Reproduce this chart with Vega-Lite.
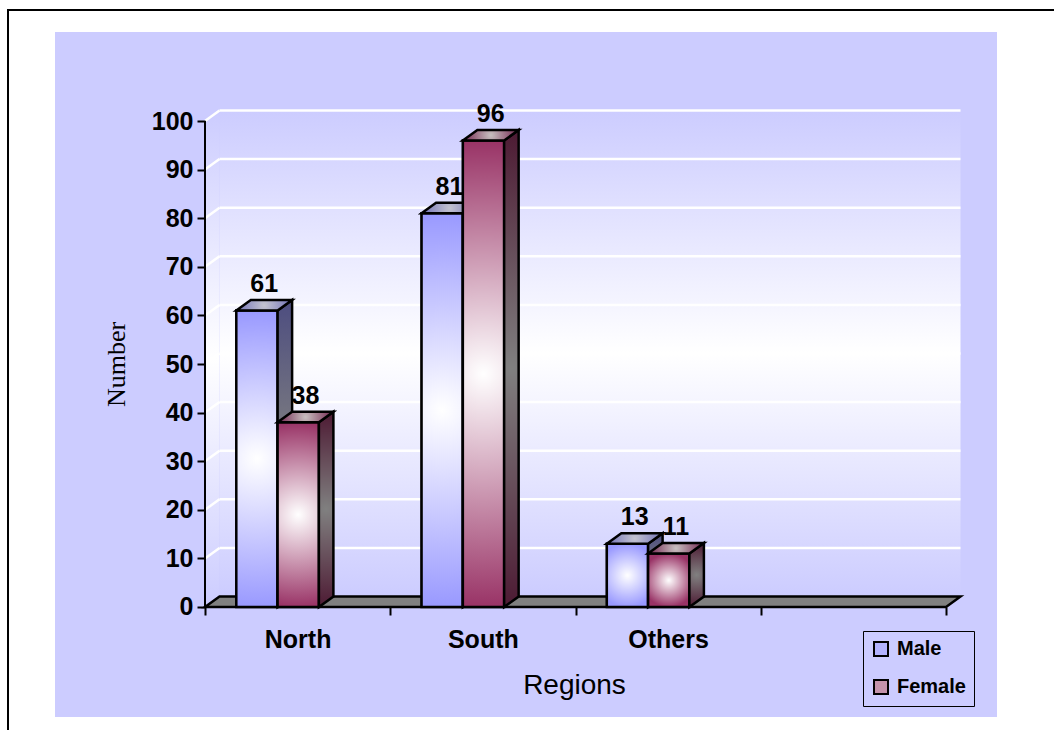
{
  "$schema": "https://vega.github.io/schema/vega-lite/v6.json",
  "width": 942,
  "height": 685,
  "padding": {"left": 55, "top": 32, "right": 57, "bottom": 13},
  "autosize": {"type": "none"},
  "background": "white",
  "config": {
    "view": {"stroke": null, "fill": "#ccccff"},
    "font": "Liberation Sans"
  },
  "datasets": {
    "survey": [
      {"region": "North", "sex": "Male", "count": 61},
      {"region": "North", "sex": "Female", "count": 38},
      {"region": "South", "sex": "Male", "count": 81},
      {"region": "South", "sex": "Female", "count": 96},
      {"region": "Others", "sex": "Male", "count": 13},
      {"region": "Others", "sex": "Female", "count": 11}
    ],
    "gridTicks": [
      {"tick": 10}, {"tick": 20}, {"tick": 30}, {"tick": 40}, {"tick": 50},
      {"tick": 60}, {"tick": 70}, {"tick": 80}, {"tick": 90}, {"tick": 100}
    ],
    "depth": [{"plane": "front"}, {"plane": "back"}]
  },
  "layer": [
    {
      "data": {"values": [{}]},
      "mark": {"type": "rect", "fill": "transparent", "stroke": "black", "strokeWidth": 2},
      "encoding": {
        "x": {
          "datum": -1.0634, "type": "quantitative",
          "scale": {"type": "linear", "domain": [-0.80972, 4.2753], "nice": false, "zero": false},
          "axis": {
            "values": [0, 1, 2, 3, 4],
            "offset": -110,
            "domain": false,
            "grid": false,
            "tickSize": 8,
            "tickWidth": 2,
            "tickColor": "black",
            "labelOffset": 92.6,
            "labelFlush": false,
            "labelOverlap": false,
            "labelExpr": "datum.value == 0 ? 'North' : datum.value == 1 ? 'South' : datum.value == 2 ? 'Others' : ''",
            "labelFont": "Liberation Sans",
            "labelFontWeight": "bold",
            "labelFontSize": 25,
            "labelColor": "black",
            "labelPadding": 12,
            "title": "Regions",
            "titleFont": "Liberation Sans",
            "titleFontWeight": "normal",
            "titleFontSize": 28,
            "titleColor": "black",
            "titleX": 519,
            "titleY": 86,
            "titleAlign": "center",
            "titleBaseline": "alphabetic",
            "zindex": 1
          }
        },
        "x2": {"datum": 4.65},
        "y": {
          "datum": 122.84, "type": "quantitative",
          "scale": {"type": "linear", "domain": [-22.634, 118.313], "nice": false, "zero": false},
          "axis": {
            "values": [0, 10, 20, 30, 40, 50, 60, 70, 80, 90, 100],
            "offset": -150,
            "domain": false,
            "grid": false,
            "tickSize": 8,
            "tickWidth": 2,
            "tickColor": "black",
            "labelFlush": false,
            "labelOverlap": false,
            "labelFont": "Liberation Sans",
            "labelFontWeight": "bold",
            "labelFontSize": 25,
            "labelColor": "black",
            "labelPadding": 4,
            "title": "Number",
            "titleFont": "Liberation Serif",
            "titleFontWeight": "normal",
            "titleFontSize": 26,
            "titleColor": "black",
            "titleAngle": -90,
            "titleX": -89,
            "titleY": 332,
            "titleAlign": "center",
            "titleBaseline": "middle",
            "zindex": 1
          }
        },
        "y2": {"datum": -28}
      }
    },
    {
      "data": {"name": "depth"},
      "transform": [
        {"calculate": "datum.plane == 'back' ? 1 : 0", "as": "k"},
        {"calculate": "datum.k * 0.0783", "as": "wx"},
        {"calculate": "100 + datum.k * 2.16", "as": "wt"},
        {"calculate": "datum.k * 2.16", "as": "wb"}
      ],
      "mark": {
        "type": "area", "orient": "vertical", "opacity": 1,
        "fill": {"gradient": "linear", "x1": 0, "y1": 0, "x2": 0, "y2": 1,
          "stops": [{"offset": 0, "color": "#ccccff"}, {"offset": 0.5, "color": "#ffffff"}, {"offset": 1, "color": "#ccccff"}]}
      },
      "encoding": {
        "x": {"field": "wx", "type": "quantitative", "scale": {"type": "linear", "domain": [-0.80972, 4.2753], "nice": false, "zero": false}},
        "y": {"field": "wt", "type": "quantitative", "scale": {"type": "linear", "domain": [-22.634, 118.313], "nice": false, "zero": false}},
        "y2": {"field": "wb"}
      }
    },
    {
      "data": {"values": [{}]},
      "mark": {
        "type": "rect",
        "fill": {"gradient": "linear", "x1": 0, "y1": 0, "x2": 0, "y2": 1,
          "stops": [{"offset": 0, "color": "#ccccff"}, {"offset": 0.5, "color": "#ffffff"}, {"offset": 1, "color": "#ccccff"}]}
      },
      "encoding": {
        "x": {"datum": 0.0783, "type": "quantitative", "scale": {"type": "linear", "domain": [-0.80972, 4.2753], "nice": false, "zero": false}},
        "x2": {"datum": 4.0783},
        "y": {"datum": 2.16, "type": "quantitative", "scale": {"type": "linear", "domain": [-22.634, 118.313], "nice": false, "zero": false}},
        "y2": {"datum": 102.16}
      }
    },
    {
      "data": {"name": "gridTicks"},
      "transform": [{"calculate": "datum.tick + 2.16", "as": "gy"}],
      "mark": {"type": "rule", "stroke": "white", "strokeWidth": 2.5},
      "encoding": {
        "x": {"datum": 0.0783, "type": "quantitative", "scale": {"type": "linear", "domain": [-0.80972, 4.2753], "nice": false, "zero": false}},
        "x2": {"datum": 4.0783},
        "y": {"field": "gy", "type": "quantitative", "scale": {"type": "linear", "domain": [-22.634, 118.313], "nice": false, "zero": false}}
      }
    },
    {
      "data": {"name": "gridTicks"},
      "transform": [{"calculate": "datum.tick + 2.16", "as": "gy"}],
      "mark": {"type": "rule", "stroke": "white", "strokeWidth": 2.5},
      "encoding": {
        "x": {"datum": 0, "type": "quantitative", "scale": {"type": "linear", "domain": [-0.80972, 4.2753], "nice": false, "zero": false}},
        "x2": {"datum": 0.0783},
        "y": {"field": "tick", "type": "quantitative", "scale": {"type": "linear", "domain": [-22.634, 118.313], "nice": false, "zero": false}},
        "y2": {"field": "gy"}
      }
    },
    {
      "data": {"name": "depth"},
      "transform": [
        {"calculate": "datum.plane == 'back' ? 1 : 0", "as": "k"},
        {"calculate": "datum.k * 2.16", "as": "fy"},
        {"calculate": "datum.k * 0.0783", "as": "fx"},
        {"calculate": "4 + datum.k * 0.0783", "as": "fx2"}
      ],
      "mark": {"type": "area", "orient": "horizontal", "opacity": 1, "fill": "#808080", "stroke": "black", "strokeWidth": 2.5},
      "encoding": {
        "y": {"field": "fy", "type": "quantitative", "scale": {"type": "linear", "domain": [-22.634, 118.313], "nice": false, "zero": false}},
        "x": {"field": "fx", "type": "quantitative", "scale": {"type": "linear", "domain": [-0.80972, 4.2753], "nice": false, "zero": false}},
        "x2": {"field": "fx2"}
      }
    },
    {
      "data": {"name": "survey"},
      "transform": [
        {"calculate": "indexof(['North','South','Others'], datum.region)", "as": "ri"},
        {"calculate": "datum.sex == 'Male' ? 0 : 1", "as": "si"},
        {"calculate": "datum.ri + 0.169 + datum.si * 0.2229", "as": "xl"},
        {"calculate": "datum.xl + 0.2229", "as": "xr"}
      ],
      "mark": {"type": "rect", "opacity": 1, "stroke": "black", "strokeWidth": 2},
      "encoding": {
        "x": {"field": "xl", "type": "quantitative", "scale": {"type": "linear", "domain": [-0.80972, 4.2753], "nice": false, "zero": false}},
        "x2": {"field": "xr"},
        "y": {"field": "count", "type": "quantitative", "scale": {"type": "linear", "domain": [-22.634, 118.313], "nice": false, "zero": false}},
        "y2": {"datum": 0},
        "fill": {
          "field": "sex", "type": "nominal",
          "scale": {"domain": ["Male", "Female"], "range": ["#b3b3ff", "#c493ab"]},
          "legend": {
            "orient": "none",
            "legendX": 808,
            "legendY": 599,
            "title": null,
            "symbolType": "square",
            "symbolSize": 196,
            "symbolStrokeColor": "black",
            "symbolStrokeWidth": 2,
            "symbolOpacity": 1,
            "labelFont": "Liberation Sans",
            "labelFontWeight": "bold",
            "labelFontSize": 20,
            "labelColor": "black",
            "labelOffset": 6,
            "rowPadding": 16,
            "padding": 8,
            "strokeColor": "black"
          }
        }
      }
    },
    {
      "data": {"name": "survey"},
      "transform": [
        {"filter": "datum.sex == 'Male'"},
        {"calculate": "indexof(['North','South','Others'], datum.region)", "as": "ri"},
        {"calculate": "datum.ri + 0.169", "as": "xl"},
        {"calculate": "datum.xl + 0.2229", "as": "xr"}
      ],
      "mark": {
        "type": "rect", "stroke": "black", "strokeWidth": 2.5, "opacity": 1,
        "fill": {"gradient": "radial", "x1": 0.5, "y1": 0.5, "r1": 0, "x2": 0.5, "y2": 0.5, "r2": 0.5,
          "stops": [{"offset": 0, "color": "#ffffff"}, {"offset": 1, "color": "#9999ff"}]}
      },
      "encoding": {
        "x": {"field": "xl", "type": "quantitative", "scale": {"type": "linear", "domain": [-0.80972, 4.2753], "nice": false, "zero": false}},
        "x2": {"field": "xr"},
        "y": {"field": "count", "type": "quantitative", "scale": {"type": "linear", "domain": [-22.634, 118.313], "nice": false, "zero": false}},
        "y2": {"datum": 0}
      }
    },
    {
      "data": {"name": "survey"},
      "transform": [
        {"filter": "datum.sex == 'Male'"},
        {"calculate": "indexof(['North','South','Others'], datum.region)", "as": "ri"},
        {"calculate": "datum.ri + 0.169 + 0.2229", "as": "xr"},
        {"calculate": "[0, 1]", "as": "k"},
        {"flatten": ["k"]},
        {"calculate": "datum.xr + datum.k * 0.0783", "as": "sx"},
        {"calculate": "datum.count + datum.k * 2.16", "as": "st"},
        {"calculate": "datum.k * 2.16", "as": "sb"}
      ],
      "mark": {
        "type": "area", "orient": "vertical", "stroke": "black", "strokeWidth": 2.5, "opacity": 1,
        "fill": {"gradient": "radial", "x1": 0.5, "y1": 0.5, "r1": 0, "x2": 0.5, "y2": 0.5, "r2": 0.5,
          "stops": [{"offset": 0, "color": "#808080"}, {"offset": 1, "color": "#4d4d80"}]}
      },
      "encoding": {
        "x": {"field": "sx", "type": "quantitative", "scale": {"type": "linear", "domain": [-0.80972, 4.2753], "nice": false, "zero": false}},
        "y": {"field": "st", "type": "quantitative", "scale": {"type": "linear", "domain": [-22.634, 118.313], "nice": false, "zero": false}},
        "y2": {"field": "sb"},
        "detail": {"field": "region", "type": "nominal"}
      }
    },
    {
      "data": {"name": "survey"},
      "transform": [
        {"filter": "datum.sex == 'Male'"},
        {"calculate": "indexof(['North','South','Others'], datum.region)", "as": "ri"},
        {"calculate": "datum.ri + 0.169", "as": "xl"},
        {"calculate": "datum.xl + 0.2229", "as": "xr"},
        {"calculate": "[0, 1]", "as": "k"},
        {"flatten": ["k"]},
        {"calculate": "datum.xl + datum.k * 0.0783", "as": "tx"},
        {"calculate": "datum.xr + datum.k * 0.0783", "as": "tx2"},
        {"calculate": "datum.count + datum.k * 2.16", "as": "ty"}
      ],
      "mark": {
        "type": "area", "orient": "horizontal", "stroke": "black", "strokeWidth": 2.5, "opacity": 1,
        "fill": {"gradient": "radial", "x1": 0.5, "y1": 0.5, "r1": 0, "x2": 0.5, "y2": 0.5, "r2": 0.5,
          "stops": [{"offset": 0, "color": "#c4c4d0"}, {"offset": 1, "color": "#7373b8"}]}
      },
      "encoding": {
        "y": {"field": "ty", "type": "quantitative", "scale": {"type": "linear", "domain": [-22.634, 118.313], "nice": false, "zero": false}},
        "x": {"field": "tx", "type": "quantitative", "scale": {"type": "linear", "domain": [-0.80972, 4.2753], "nice": false, "zero": false}},
        "x2": {"field": "tx2"},
        "detail": {"field": "region", "type": "nominal"}
      }
    },
    {
      "data": {"name": "survey"},
      "transform": [
        {"filter": "datum.sex == 'Female'"},
        {"calculate": "indexof(['North','South','Others'], datum.region)", "as": "ri"},
        {"calculate": "datum.ri + 0.169 + 0.2229", "as": "xl"},
        {"calculate": "datum.xl + 0.2229", "as": "xr"}
      ],
      "mark": {
        "type": "rect", "stroke": "black", "strokeWidth": 2.5, "opacity": 1,
        "fill": {"gradient": "radial", "x1": 0.5, "y1": 0.5, "r1": 0, "x2": 0.5, "y2": 0.5, "r2": 0.5,
          "stops": [{"offset": 0, "color": "#ffffff"}, {"offset": 1, "color": "#993366"}]}
      },
      "encoding": {
        "x": {"field": "xl", "type": "quantitative", "scale": {"type": "linear", "domain": [-0.80972, 4.2753], "nice": false, "zero": false}},
        "x2": {"field": "xr"},
        "y": {"field": "count", "type": "quantitative", "scale": {"type": "linear", "domain": [-22.634, 118.313], "nice": false, "zero": false}},
        "y2": {"datum": 0}
      }
    },
    {
      "data": {"name": "survey"},
      "transform": [
        {"filter": "datum.sex == 'Female'"},
        {"calculate": "indexof(['North','South','Others'], datum.region)", "as": "ri"},
        {"calculate": "datum.ri + 0.169 + 2 * 0.2229", "as": "xr"},
        {"calculate": "[0, 1]", "as": "k"},
        {"flatten": ["k"]},
        {"calculate": "datum.xr + datum.k * 0.0783", "as": "sx"},
        {"calculate": "datum.count + datum.k * 2.16", "as": "st"},
        {"calculate": "datum.k * 2.16", "as": "sb"}
      ],
      "mark": {
        "type": "area", "orient": "vertical", "stroke": "black", "strokeWidth": 2.5, "opacity": 1,
        "fill": {"gradient": "radial", "x1": 0.5, "y1": 0.5, "r1": 0, "x2": 0.5, "y2": 0.5, "r2": 0.5,
          "stops": [{"offset": 0, "color": "#808080"}, {"offset": 1, "color": "#4d1a33"}]}
      },
      "encoding": {
        "x": {"field": "sx", "type": "quantitative", "scale": {"type": "linear", "domain": [-0.80972, 4.2753], "nice": false, "zero": false}},
        "y": {"field": "st", "type": "quantitative", "scale": {"type": "linear", "domain": [-22.634, 118.313], "nice": false, "zero": false}},
        "y2": {"field": "sb"},
        "detail": {"field": "region", "type": "nominal"}
      }
    },
    {
      "data": {"name": "survey"},
      "transform": [
        {"filter": "datum.sex == 'Female'"},
        {"calculate": "indexof(['North','South','Others'], datum.region)", "as": "ri"},
        {"calculate": "datum.ri + 0.169 + 0.2229", "as": "xl"},
        {"calculate": "datum.xl + 0.2229", "as": "xr"},
        {"calculate": "[0, 1]", "as": "k"},
        {"flatten": ["k"]},
        {"calculate": "datum.xl + datum.k * 0.0783", "as": "tx"},
        {"calculate": "datum.xr + datum.k * 0.0783", "as": "tx2"},
        {"calculate": "datum.count + datum.k * 2.16", "as": "ty"}
      ],
      "mark": {
        "type": "area", "orient": "horizontal", "stroke": "black", "strokeWidth": 2.5, "opacity": 1,
        "fill": {"gradient": "radial", "x1": 0.5, "y1": 0.5, "r1": 0, "x2": 0.5, "y2": 0.5, "r2": 0.5,
          "stops": [{"offset": 0, "color": "#c8c0c0"}, {"offset": 1, "color": "#732650"}]}
      },
      "encoding": {
        "y": {"field": "ty", "type": "quantitative", "scale": {"type": "linear", "domain": [-22.634, 118.313], "nice": false, "zero": false}},
        "x": {"field": "tx", "type": "quantitative", "scale": {"type": "linear", "domain": [-0.80972, 4.2753], "nice": false, "zero": false}},
        "x2": {"field": "tx2"},
        "detail": {"field": "region", "type": "nominal"}
      }
    },
    {
      "data": {"values": [{}]},
      "mark": {"type": "rule", "stroke": "black", "strokeWidth": 2},
      "encoding": {
        "x": {"datum": 0, "type": "quantitative", "scale": {"type": "linear", "domain": [-0.80972, 4.2753], "nice": false, "zero": false}},
        "y": {"datum": 0, "type": "quantitative", "scale": {"type": "linear", "domain": [-22.634, 118.313], "nice": false, "zero": false}},
        "y2": {"datum": 100}
      }
    },
    {
      "data": {"name": "survey"},
      "transform": [
        {"calculate": "indexof(['North','South','Others'], datum.region)", "as": "ri"},
        {"calculate": "datum.sex == 'Male' ? 0 : 1", "as": "si"},
        {"calculate": "datum.ri + 0.169 + datum.si * 0.2229 + 0.2229 / 2 + 0.0783 / 2", "as": "lx"},
        {"calculate": "datum.count + 2.16", "as": "ly"}
      ],
      "mark": {"type": "text", "font": "Liberation Sans", "fontWeight": "bold", "fontSize": 25, "color": "black", "baseline": "alphabetic", "align": "center", "dy": -8},
      "encoding": {
        "x": {"field": "lx", "type": "quantitative", "scale": {"type": "linear", "domain": [-0.80972, 4.2753], "nice": false, "zero": false}},
        "y": {"field": "ly", "type": "quantitative", "scale": {"type": "linear", "domain": [-22.634, 118.313], "nice": false, "zero": false}},
        "text": {"field": "count", "type": "quantitative"}
      }
    }
  ]
}
